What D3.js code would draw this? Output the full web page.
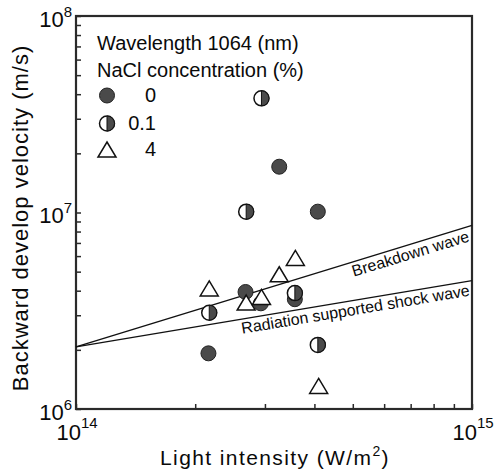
<!DOCTYPE html>
<html>
<head>
<meta charset="utf-8">
<script src="https://cdn.jsdelivr.net/npm/d3@7"></script>
<style>
  body { margin: 0; background: #fff; }
  text { font-family: "Liberation Sans", Arial, sans-serif; fill: #0a0a0a; }
</style>
</head>
<body>
<div id="container"></div>
<script>
// axis ranges (log-log)
const xDomain = [1e14, 1e15];
const yDomain = [1e6, 1e8];
const xMajor = [1e14, 1e15];
const yMajor = [1e6, 1e7, 1e8];

// measured points, [intensity W/m2, velocity m/s]
const nacl0 = [[3.26e14, 1.71e7], [4.08e14, 1.01e7], [2.68e14, 3.94e6], [2.93e14, 3.45e6], [3.57e14, 3.62e6], [2.16e14, 1.92e6]];
const nacl01 = [[2.94e14, 3.81e7], [2.69e14, 1.01e7], [2.17e14, 3.09e6], [4.08e14, 2.12e6], [3.57e14, 3.89e6]];
const nacl4 = [[3.58e14, 5.87e6], [3.26e14, 4.85e6], [2.17e14, 4.11e6], [2.69e14, 3.48e6], [2.94e14, 3.72e6], [4.10e14, 1.31e6]];

// theory lines
const breakdownWave = [[1e14, 2.07e6], [1e15, 8.6e6]];
const shockWave = [[1e14, 2.07e6], [1e15, 4.5e6]];

const legendTitles = ["Wavelength 1064 (nm)", "NaCl concentration (%)"];
const legendLabels = ["0", "0.1", "4"];

let margin = {top: 16, right: 25, bottom: 66, left: 76},
  width = 497 - margin.left - margin.right,
  height = 475 - margin.top - margin.bottom;

let svg = d3.select("#container").append("svg")
  .attr("width", 497).attr("height", 475);
let g = svg.append("g").attr("transform", "translate(" + margin.left + "," + margin.top + ")");

let xScale = d3.scaleLog().domain(xDomain).range([0, width]);
let yScale = d3.scaleLog().domain(yDomain).range([height, 0]);

let axisColor = "#2a2a2a";
let grey = "#4a4a4a";

// axes: ticks pointing inward, labels drawn separately
function styleAxis(sel){
  sel.select(".domain").remove();
  sel.selectAll("line").attr("stroke", axisColor).attr("stroke-width", 1.5);
}
g.append("g")
  .call(d3.axisLeft(yScale).tickValues(yScale.ticks()).tickSize(-5).tickFormat(""))
  .call(styleAxis);
g.append("g")
  .attr("transform", "translate(0," + height + ")")
  .call(d3.axisBottom(xScale).tickValues(xScale.ticks()).tickSize(-5).tickFormat(""))
  .call(styleAxis);

// frame
g.append("rect")
  .attr("width", width).attr("height", height)
  .attr("fill", "none").attr("stroke", axisColor).attr("stroke-width", 2.2);

// tick labels with exponents
yMajor.forEach(function(v){
  let t = g.append("text")
    .attr("x", -4).attr("y", yScale(v) + 10.5)
    .attr("text-anchor", "end").style("font-size", "22px");
  t.append("tspan").text("10");
  t.append("tspan").attr("dy", -10).style("font-size", "15px").text(Math.round(Math.log10(v)));
});
xMajor.forEach(function(v){
  let t = g.append("text")
    .attr("x", xScale(v) + 1).attr("y", height + 31)
    .attr("text-anchor", "middle").style("font-size", "22px");
  t.append("tspan").text("10");
  t.append("tspan").attr("dy", -12).style("font-size", "15px").text(Math.round(Math.log10(v)));
});

// axis titles
svg.append("text")
  .attr("transform", "translate(28,218) rotate(-90)")
  .attr("text-anchor", "middle")
  .style("font-size", "22px").style("letter-spacing", "1px")
  .text("Backward develop velocity (m/s)");
let xt = svg.append("text")
  .attr("x", 275).attr("y", 465)
  .attr("text-anchor", "middle")
  .style("font-size", "21px").style("letter-spacing", "1.4px");
xt.append("tspan").text("Light intensity (W/m");
xt.append("tspan").attr("dy", -9).style("font-size", "14px").text("2");
xt.append("tspan").attr("dy", 9).text(")");

// theory lines
let line = d3.line().x(d => xScale(d[0])).y(d => yScale(d[1]));
[breakdownWave, shockWave].forEach(function(d){
  g.append("path").datum(d).attr("d", line)
    .attr("fill", "none").attr("stroke", "#111").attr("stroke-width", 1.4);
});

function lineLabel(d, xAt, txt){
  let x0 = xScale(d[0][0]), y0 = yScale(d[0][1]);
  let x1 = xScale(d[1][0]), y1 = yScale(d[1][1]);
  let px = xScale(xAt);
  let py = y0 + (y1 - y0) * (px - x0) / (x1 - x0);
  let ang = Math.atan2(y1 - y0, x1 - x0) * 180 / Math.PI;
  g.append("text")
    .attr("transform", "translate(" + px + "," + py + ") rotate(" + ang + ")")
    .attr("text-anchor", "end").attr("dy", 14.5)
    .style("font-size", "16px")
    .text(txt);
}
lineLabel(breakdownWave, 9.66e14, "Breakdown wave");
lineLabel(shockWave, 9.77e14, "Radiation supported shock wave");

// markers
let r = 7.5;
function drawFilled(sel, x, y){
  sel.append("circle").attr("cx", x).attr("cy", y).attr("r", r)
    .attr("fill", grey).attr("stroke", "#222").attr("stroke-width", 1);
}
function drawHalf(sel, x, y){
  sel.append("circle").attr("cx", x).attr("cy", y).attr("r", r)
    .attr("fill", "#fff").attr("stroke", "#111").attr("stroke-width", 1.5);
  sel.append("path")
    .attr("d", "M" + x + "," + (y - r) + " A" + r + "," + r + " 0 0 1 " + x + "," + (y + r) + " Z")
    .attr("fill", grey).attr("stroke", "#111").attr("stroke-width", 1);
}
function drawTriangle(sel, x, y){
  let w = 9, h = 7.5;
  sel.append("path")
    .attr("d", "M" + x + "," + (y - h) + " L" + (x + w) + "," + (y + h) + " L" + (x - w) + "," + (y + h) + " Z")
    .attr("fill", "#fff").attr("stroke", "#111").attr("stroke-width", 1.5);
}

nacl0.forEach(d => drawFilled(g, xScale(d[0]), yScale(d[1])));
nacl01.forEach(d => drawHalf(g, xScale(d[0]), yScale(d[1])));
nacl4.forEach(d => drawTriangle(g, xScale(d[0]), yScale(d[1])));

// legend
legendTitles.forEach(function(t, i){
  svg.append("text").attr("x", 97).attr("y", 50 + i * 27)
    .style("font-size", "20px").text(t);
});
let drawers = [drawFilled, drawHalf, drawTriangle];
let legendY = [95.5, 123.5, 149.5];
legendLabels.forEach(function(t, i){
  drawers[i](svg, 107, legendY[i]);
  svg.append("text").attr("x", 156).attr("y", legendY[i] + 6.5)
    .attr("text-anchor", "end").style("font-size", "20px").text(t);
});
</script>
</body>
</html>
